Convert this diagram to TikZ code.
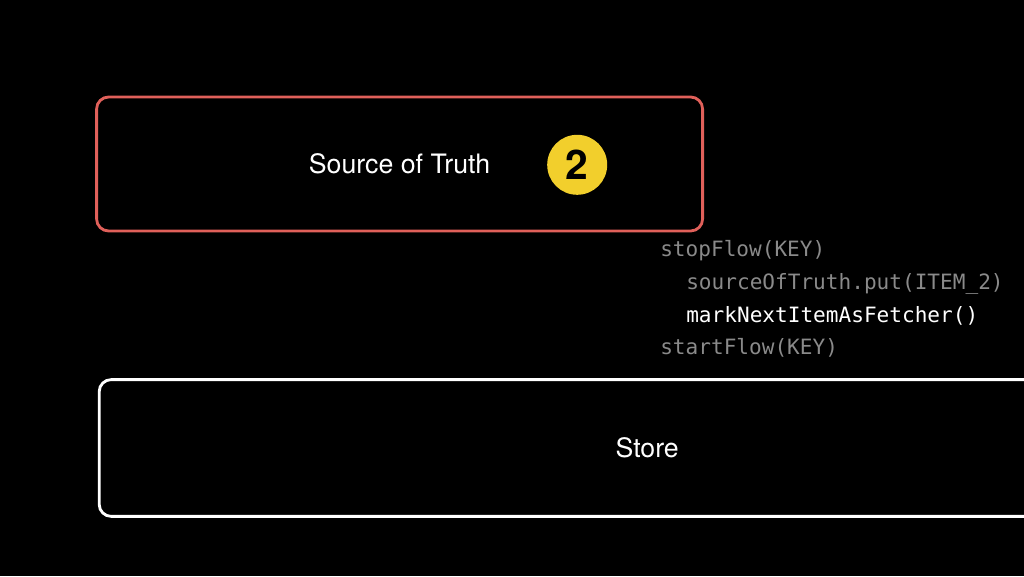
\documentclass[tikz,border=0pt]{standalone}
\usepackage{tikz}
\usepackage{xcolor}
\usepackage{fontspec}
\newfontfamily\heros{TeX Gyre Heros}
\newfontfamily\mono{DejaVu Sans Mono}
\newcommand{\FL}{\fontsize{19}{23}\heros}
\newcommand{\FC}{\fontsize{15}{18}\mono}
\definecolor{soured}{HTML}{E0605A}
\definecolor{badge}{HTML}{F2CF2C}
\definecolor{codegray}{HTML}{8A8A8A}

\begin{document}
\begin{tikzpicture}
\tikzstyle{box}=[draw,rounded corners=0.3cm,line width=2pt,fill=black,font=\FL,text=white,inner sep=0pt]
\tikzstyle{codeline}=[anchor=west,font=\FC,text=codegray,inner sep=0pt]

\fill[black] (0,0) rectangle (25.6,14.4);
\useasboundingbox (0,0) rectangle (25.6,14.4);
\clip (0,0) rectangle (25.6,14.4);

\node[box,draw=soured,minimum width=15.15cm,minimum height=3.35cm] (sot) at (9.99,10.3) {Source of Truth};
\node[circle,fill=badge,minimum size=1.5cm,inner sep=0pt,font=\fontsize{29}{32}\heros\bfseries] (two) at (14.43,10.28) {2};

\node[box,draw=white,minimum width=27.4cm,minimum height=3.42cm] (store) at (16.18,3.2) {Store};

\node[codeline] (c1) at (16.5,8.13)  {stopFlow(KEY)};
\node[codeline] (c2) at (17.15,7.3)  {sourceOfTruth.put(ITEM\_2)};
\node[codeline,text=white] (c3) at (17.15,6.5) {markNextItemAsFetcher()};
\node[codeline] (c4) at (16.5,5.7)   {startFlow(KEY)};
\end{tikzpicture}
\end{document}
